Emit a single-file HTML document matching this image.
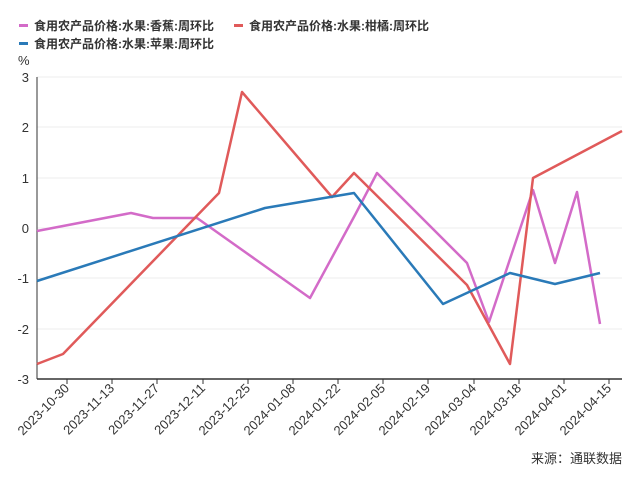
<!DOCTYPE html>
<html><head><meta charset="utf-8"><style>
body{margin:0;background:#fff;}
svg text{font-family:"Liberation Sans","Noto Sans CJK SC",sans-serif;}
</style></head><body>
<svg width="638" height="478" xmlns="http://www.w3.org/2000/svg">
<g font-size="12" font-weight="bold" fill="#333">
<rect x="19" y="24" width="9" height="3" fill="#d36bc8"/><text x="34" y="30">食用农产品价格:水果:香蕉:周环比</text>
<rect x="234" y="24" width="9" height="3" fill="#e05a5a"/><text x="249" y="30">食用农产品价格:水果:柑橘:周环比</text>
<rect x="19" y="42" width="9" height="3" fill="#2a7ab8"/><text x="34" y="48">食用农产品价格:水果:苹果:周环比</text>
</g>
<text x="18" y="65" font-size="13" fill="#333">%</text>
<g stroke="#eee" stroke-width="1">
<line x1="37" x2="622" y1="77" y2="77"/><line x1="37" x2="622" y1="127" y2="127"/><line x1="37" x2="622" y1="178" y2="178"/><line x1="37" x2="622" y1="228" y2="228"/><line x1="37" x2="622" y1="278" y2="278"/><line x1="37" x2="622" y1="329" y2="329"/>
</g>
<g font-size="13" fill="#333" text-anchor="end">
<text x="29" y="82">3</text><text x="29" y="132">2</text><text x="29" y="183">1</text><text x="29" y="233">0</text><text x="29" y="283">-1</text><text x="29" y="334">-2</text><text x="29" y="384">-3</text>
</g>
<line x1="37" y1="77" x2="37" y2="379" stroke="#333"/>
<line x1="37" y1="379" x2="622" y2="379" stroke="#333" stroke-width="1.5"/>
<g font-size="13" fill="#333" text-anchor="end">
<line x1="67" y1="379" x2="67" y2="384" stroke="#333"/><text transform="translate(70,389) rotate(-45)">2023-10-30</text>
<line x1="112" y1="379" x2="112" y2="384" stroke="#333"/><text transform="translate(115,389) rotate(-45)">2023-11-13</text>
<line x1="157" y1="379" x2="157" y2="384" stroke="#333"/><text transform="translate(160,389) rotate(-45)">2023-11-27</text>
<line x1="203" y1="379" x2="203" y2="384" stroke="#333"/><text transform="translate(206,389) rotate(-45)">2023-12-11</text>
<line x1="248" y1="379" x2="248" y2="384" stroke="#333"/><text transform="translate(251,389) rotate(-45)">2023-12-25</text>
<line x1="293" y1="379" x2="293" y2="384" stroke="#333"/><text transform="translate(296,389) rotate(-45)">2024-01-08</text>
<line x1="338" y1="379" x2="338" y2="384" stroke="#333"/><text transform="translate(341,389) rotate(-45)">2024-01-22</text>
<line x1="383" y1="379" x2="383" y2="384" stroke="#333"/><text transform="translate(386,389) rotate(-45)">2024-02-05</text>
<line x1="428" y1="379" x2="428" y2="384" stroke="#333"/><text transform="translate(431,389) rotate(-45)">2024-02-19</text>
<line x1="474" y1="379" x2="474" y2="384" stroke="#333"/><text transform="translate(477,389) rotate(-45)">2024-03-04</text>
<line x1="519" y1="379" x2="519" y2="384" stroke="#333"/><text transform="translate(522,389) rotate(-45)">2024-03-18</text>
<line x1="564" y1="379" x2="564" y2="384" stroke="#333"/><text transform="translate(567,389) rotate(-45)">2024-04-01</text>
<line x1="609" y1="379" x2="609" y2="384" stroke="#333"/><text transform="translate(612,389) rotate(-45)">2024-04-15</text>
</g>
<g fill="none" stroke-width="2.5" stroke-linejoin="round">
<polyline stroke="#d36bc8" points="37,231 131,213 153,218 197,218 310,298 355,215 377,173 467,263 489,322 533,190 555,263 577,192 600,324"/>
<polyline stroke="#e05a5a" points="37,364 63,354 219,193 242,92 332,197 354,173 467,285 510,364 533,178 622,131"/>
<polyline stroke="#2a7ab8" points="37,281 265,208 354,193 443,304 510,273 555,284 600,273"/>
</g>
<text x="622" y="463" font-size="13" fill="#333" text-anchor="end">来源：通联数据</text>
</svg>
</body></html>
